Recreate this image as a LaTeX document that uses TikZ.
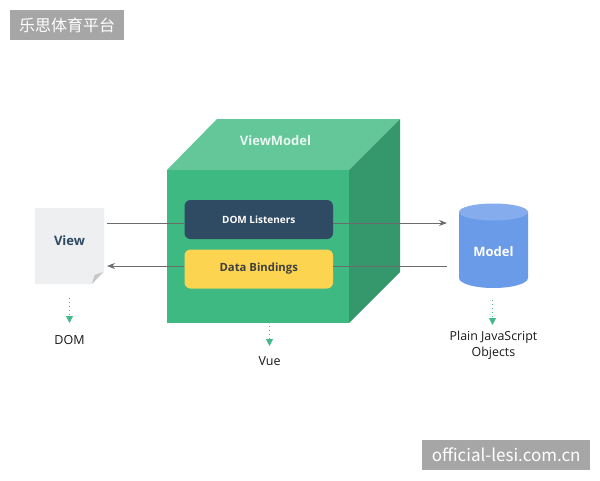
\documentclass[tikz,border=0pt]{standalone}
\usepackage{fontspec}
\setmainfont{Open Sans}
\newfontfamily\cjk{Noto Sans CJK SC}
\usetikzlibrary{arrows.meta}
\definecolor{cubefront}{HTML}{3DB981}
\definecolor{cubetop}{HTML}{64C799}
\definecolor{cubeside}{HTML}{35976C}
\definecolor{navybox}{HTML}{2F4A63}
\definecolor{yellowbox}{HTML}{FCD450}
\definecolor{cylbody}{HTML}{6A9BE9}
\definecolor{cyltop}{HTML}{85ADEE}
\definecolor{pagefill}{HTML}{EEEFF1}
\definecolor{foldfill}{HTML}{C6C7C9}
\definecolor{linegrey}{HTML}{6B6B6B}
\definecolor{inkdark}{HTML}{2F4A63}
\definecolor{stampgrey}{HTML}{A6A6A6}
\definecolor{dotgreen}{HTML}{45B98A}
\tikzset{
  x=1pt,y=-1pt,
  innerbox/.style={rounded corners=6pt,minimum width=148.5pt,minimum height=39pt,inner sep=0pt},
  flowline/.style={draw=linegrey,line width=1pt},
  flowarrow/.style={flowline,-{Stealth[length=8pt,width=6pt]}},
  dotarrow/.style={draw=dotgreen,line width=1pt,dash pattern=on 1pt off 3pt,-{Triangle[length=7pt,width=7pt,fill=dotgreen,sep=0pt]}},
  caption/.style={inner sep=0pt,font=\fontsize{12.5}{15}\selectfont,text=black!90},
  stamp/.style={fill=stampgrey,text=white,inner sep=0pt,anchor=north west},
}
\begin{document}
\begin{tikzpicture}
\useasboundingbox (0,0) rectangle (600,480);
\fill[white] (0,0) rectangle (600,480);
% cube
\fill[cubetop] (167,170) -- (217,119) -- (400,119) -- (349,170) -- cycle;
\fill[cubeside] (349,170) -- (400,119) -- (400,272) -- (349,323) -- cycle;
\fill[cubefront] (167,170) rectangle (349,323);
\node[inner sep=0pt,text=white!85!cubetop,font=\fontsize{13}{15}\selectfont\bfseries] (vmlabel) at (275.5,141) {ViewModel};
\node[innerbox,fill=navybox,text=white,font=\fontsize{10}{12}\selectfont\bfseries] (listeners) at (258.75,219.5) {DOM Listeners};
\node[innerbox,fill=yellowbox,text=black!75,font=\fontsize{11.3}{13}\selectfont\bfseries] (bindings) at (258.75,269) {Data Bindings};
% view page
\fill[pagefill] (35,208) -- (104,208) -- (104,272) -- (92,284) -- (35,284) -- cycle;
\fill[foldfill] (103,272) -- (94.5,275) -- (92,284) -- cycle;
\node[inner sep=0pt,minimum width=69pt,minimum height=76pt,text=inkdark,font=\fontsize{13}{15}\selectfont\bfseries] (view) at (69.5,241) {View};
% model cylinder
\fill[cylbody] (459,212) -- (459,278) .. controls (459,283.5) and (474.4,288) .. (493.5,288) .. controls (512.6,288) and (528,283.5) .. (528,278) -- (528,212) -- cycle;
\fill[cyltop] (459,212) .. controls (459,207.3) and (474.4,203.5) .. (493.5,203.5) .. controls (512.6,203.5) and (528,207.3) .. (528,212) .. controls (528,216.7) and (512.6,220.5) .. (493.5,220.5) .. controls (474.4,220.5) and (459,216.7) .. (459,212) -- cycle;
\node[inner sep=0pt,minimum width=69pt,minimum height=84pt,text=white,font=\fontsize{13}{15}\selectfont\bfseries] (model) at (493.5,251.5) {Model};
% connectors
\coordinate (viewout) at (107,223);
\coordinate (viewin) at (107,266);
\coordinate (modelin) at (447,223);
\coordinate (modelout) at (447,266);
\draw[flowline] (viewout) -- (viewout -| listeners.west);
\draw[flowarrow] (viewout -| listeners.east) -- (modelin);
\draw[flowline] (modelout) -- (modelout -| bindings.east);
\draw[flowarrow] (modelout -| bindings.west) -- (viewin);
% captions
\node[caption] (domcap) at (69.5,340) {DOM};
\node[caption] (vuecap) at (269.5,361) {Vue};
\node[caption,align=center,font=\fontsize{12.4}{16}\selectfont] (jscap) at (493.5,345.5) {Plain JavaScript\\Objects};
\coordinate (domfrom) at (69.5,298);
\coordinate (domto) at (69.5,323);
\coordinate (vuefrom) at (269.5,326);
\coordinate (vueto) at (269.5,346);
\coordinate (jsfrom) at (492.5,300);
\coordinate (jsto) at (492.5,325);
\draw[dotarrow] (domfrom) -- (domto);
\draw[dotarrow] (vuefrom) -- (vueto);
\draw[dotarrow] (jsfrom) -- (jsto);
% stamps
\node[stamp,minimum width=114pt,minimum height=30pt,font=\cjk\fontsize{16}{18}\selectfont] (stampa) at (10,10) {乐思体育平台};
\node[stamp,minimum width=168pt,minimum height=30pt,font=\cjk\fontsize{17}{18}\selectfont] (stampb) at (422,440) {official-lesi.com.cn};
\end{tikzpicture}
\end{document}
